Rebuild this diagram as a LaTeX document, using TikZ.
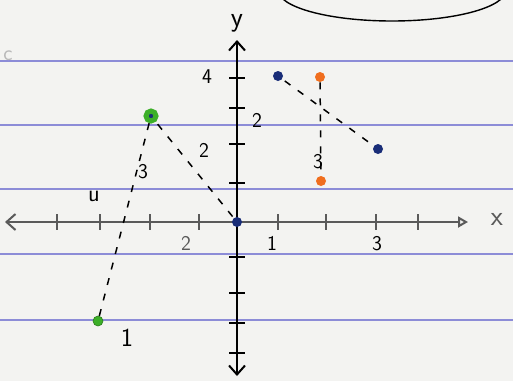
\documentclass[tikz,border=0pt]{standalone}
\usetikzlibrary{arrows.meta}
\definecolor{paper}{RGB}{243,243,241}
\definecolor{ruled}{RGB}{140,140,215}
\definecolor{inkgreen}{RGB}{60,175,40}
\definecolor{inknavy}{RGB}{25,45,120}
\definecolor{inkorange}{RGB}{240,110,30}
\definecolor{axisgray}{RGB}{90,90,90}
\tikzset{every picture/.style={line width=0.75pt}}
\tikzset{
  dot/.style={circle,inner sep=0pt,minimum size=10pt,fill=#1},
  bigdot/.style={circle,inner sep=0pt,minimum size=10pt,fill=inknavy,draw=inkgreen,line width=5pt},
  handdash/.style={dash pattern=on 7pt off 9pt,line width=1.5pt},
  hand/.style={font=\sffamily\fontsize{21}{23}\selectfont,inner sep=0.75pt},
  tickx/.style={line width=1.8pt},
}

\begin{document}
\begin{tikzpicture}[x=1pt,y=1pt,yscale=-1,xscale=1]
\useasboundingbox (0,0) rectangle (513,381);
\fill[paper] (0,0) rectangle (513,381);

%Ruled lines of the sheet
\foreach \ry in {61,125,189,254,320}
  \draw[ruled,line width=1.4pt] (0,\ry) -- (513,\ry);

%Shape: Arc (oval cut by the top edge)
\begin{scope}
\clip (0,0) rectangle (513,381);
\draw[line width=1.4pt] (392,-10) ellipse [x radius=114, y radius=31];
\end{scope}
\draw (8,56) node[font=\sffamily\fontsize{22}{24}\selectfont,text=gray!55] {c};

%Axes
\coordinate (xl) at (5,222);
\coordinate (xr) at (468,222);
\coordinate (yt) at (237,40);
\coordinate (yb) at (237,376);
\draw[axisgray,line width=2pt,{Straight Barb[length=9pt,width=16pt]}-{Triangle[open,length=10pt,width=11pt]}] (xl) -- (xr);
\draw[line width=2pt,{Straight Barb[length=9pt,width=16pt]}-{Straight Barb[length=9pt,width=16pt]}] (yb) -- (yt);
\foreach \tx in {57,100,150,199,278,326,376,418}
  \draw[tickx,axisgray] (\tx,214) -- (\tx,230);
\foreach \ty in {78,108,144,183,257,293,323,353}
  \draw[tickx] (229,\ty) -- (245,\ty);

%Points
\node[dot=inknavy] (orig) at (237,222) {};
\node[bigdot] (ga) at (151,116) {};
\node[dot=inkgreen,draw=inkgreen!70!black,line width=0.6pt] (gb) at (98,321) {};
\node[dot=inknavy] (ba) at (278,76) {};
\node[dot=inknavy] (bb) at (378,149) {};
\node[dot=inkorange] (oa) at (320,77) {};
\node[dot=inkorange] (ob) at (321,181) {};

%Straight Lines (dashed)
\draw[handdash] (ga) -- (gb);
\draw[handdash,shorten <=3pt] (ga) -- (orig);
\draw[handdash,shorten <=3pt] (ba) -- (bb);
\draw[handdash] (oa) -- (ob);

% Text Node
\draw (237,23) node[hand,font=\sffamily\fontsize{28}{30}\selectfont] {y};
\draw (497,219) node[hand,font=\sffamily\fontsize{28}{30}\selectfont,text=axisgray] {x};
\draw (207,77) node[hand] {4};
\draw (257,120) node[hand] {2};
\draw (272,243) node[hand] {1};
\draw (377,244) node[hand] {3};
\draw (186,243) node[hand,text=axisgray] {2};
\draw (143,172) node[hand] {3};
\draw (94,196) node[hand,font=\sffamily\fontsize{24}{26}\selectfont] {u};
\draw (204,150) node[hand] {2};
\draw (127,338) node[hand,font=\sffamily\fontsize{26}{28}\selectfont] {1};
\draw (318,162) node[hand] {3};

\end{tikzpicture}
\end{document}
